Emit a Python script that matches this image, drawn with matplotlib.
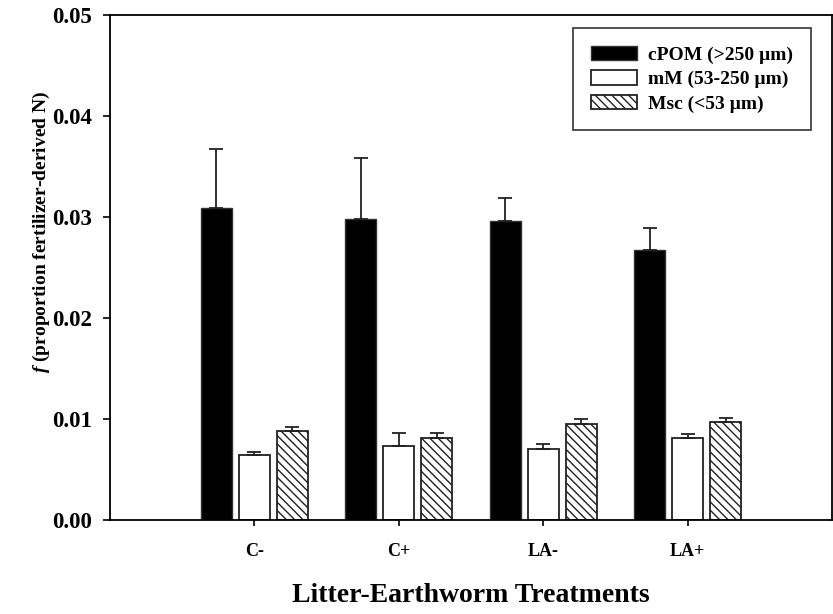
import matplotlib.pyplot as plt
import numpy as np

plt.rcParams['font.family'] = ['Liberation Serif', 'DejaVu Serif']
plt.rcParams['font.weight'] = 'bold'
plt.rcParams['hatch.linewidth'] = 1.0
plt.rcParams['mathtext.fontset'] = 'custom'
plt.rcParams['mathtext.it'] = 'Liberation Serif:italic:bold'
plt.rcParams['mathtext.rm'] = 'Liberation Serif:bold'

treatments = ['C-', 'C+', 'LA-', 'LA+']
series = ['cPOM (>250 \u00b5m)', 'mM (53-250 \u00b5m)', 'Msc (<53 \u00b5m)']

cpom = [0.0309, 0.0298, 0.0296, 0.0267]
cpom_se = [0.0058, 0.0060, 0.0023, 0.0022]
mm = [0.0064, 0.0073, 0.0070, 0.0081]
mm_se = [0.0003, 0.0013, 0.0005, 0.0004]
msc = [0.0088, 0.0081, 0.0095, 0.0097]
msc_se = [0.0004, 0.0005, 0.0005, 0.0004]

fig = plt.figure(figsize=(8.33, 6.14), dpi=100)
ax = fig.add_axes([0.132, 0.153, 0.867, 0.823])

x = np.arange(1, len(treatments) + 1)
w = 0.215
off = 0.263

err_kw = dict(ecolor='#222222', elinewidth=1.3, capsize=5, capthick=1.3)
ax.bar(x - off, cpom, w, color='black', edgecolor='#333333', linewidth=1,
       yerr=[np.zeros(4), cpom_se], error_kw=err_kw, label=series[0])
ax.bar(x, mm, w, color='white', edgecolor='#222222', linewidth=1.3,
       yerr=[np.zeros(4), mm_se], error_kw=err_kw, label=series[1])
ax.bar(x + off, msc, w, color='white', edgecolor='#222222', linewidth=1.3,
       hatch='\\\\\\\\', yerr=[np.zeros(4), msc_se], error_kw=err_kw,
       label=series[2])

ax.set_xlim(0, 5)
ax.set_ylim(0, 0.05)
ax.set_xticks(x)
ax.set_xticklabels(treatments, fontsize=13, fontweight='bold')
yt = np.arange(0, 0.051, 0.01)
ax.set_yticks(yt)
ax.set_yticklabels(['%.2f' % v for v in yt], fontsize=16.5, fontweight='bold')
ax.tick_params(axis='x', length=4.5, width=1.2, pad=12)
ax.tick_params(axis='y', length=5, width=1.2, pad=8)
for s in ax.spines.values():
    s.set_linewidth(1.3)

ax.set_xlabel('Litter-Earthworm Treatments', fontsize=20, fontweight='bold')
ax.xaxis.set_label_coords(0.5, -0.124)
ax.set_ylabel('$f$ (proportion fertilizer-derived N)', fontsize=14,
              fontweight='bold')
ax.yaxis.set_label_coords(-0.08, 0.57)

leg = ax.legend(loc='upper right', bbox_to_anchor=(0.97, 0.973),
                prop={'weight': 'bold', 'size': 14}, frameon=True,
                fancybox=False, edgecolor='black', handlelength=2.4,
                handleheight=0.75, handletextpad=0.55, borderpad=0.9,
                labelspacing=0.34, borderaxespad=0)
leg.get_frame().set_linewidth(1.2)

fig.savefig('out.png', dpi=100)
